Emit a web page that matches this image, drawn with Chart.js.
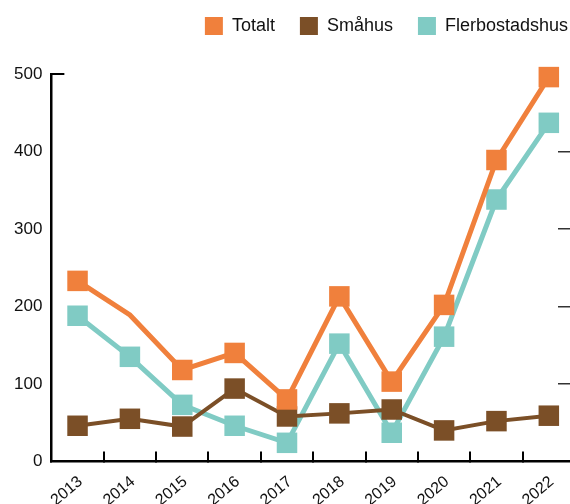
<!DOCTYPE html>
<html lang="sv">
<head>
  <meta charset="UTF-8" />
  <title>Totalt, Småhus, Flerbostadshus 2013–2022</title>
  <script src="https://cdn.jsdelivr.net/npm/chart.js"></script>
  <style>
    html, body {
      margin: 0;
      padding: 0;
      background: #fff;
      overflow: hidden;
    }
    #wrap {
      width: 570px;
      height: 504px;
      overflow: hidden;
    }
    canvas {
      display: block;
    }
  </style>
</head>
<body>
  <div id="wrap"><canvas id="chart" width="593" height="504"></canvas></div>

  <script>
    const years = ['2013', '2014', '2015', '2016', '2017', '2018', '2019', '2020', '2021', '2022'];
    const totalt = [233, 189, 118, 140, 80, 213, 103, 202, 389, 496];
    const smahus = [46, 55, 45, 94, 58, 62, 67, 40, 52, 59];
    const flerbostadshus = [188, 135, 73, 46, 24, 152, 37, 161, 338, 437];
    const yMin = 0;
    const yMax = 500;
    const yStep = 100;

    const ORANGE = '#F0803C';
    const BROWN = '#7B4F27';
    const TEAL = '#80CBC4';

    Chart.defaults.font.family = '"Liberation Sans", Helvetica, Arial, sans-serif';
    Chart.defaults.color = '#111';

    function series(label, values, color, width) {
      return {
        label: label,
        data: values,
        borderColor: color,
        backgroundColor: color,
        borderWidth: width,
        tension: 0,
        clip: false,
        pointStyle: 'rect',
        pointRadius: 14.5,
        pointBorderWidth: 0,
        pointBackgroundColor: color
      };
    }

    const totaltSet = series('Totalt', totalt, ORANGE, 5);
    // no marker on 2014 for Totalt in the original
    totaltSet.pointRadius = ctx => (ctx.dataIndex === 1 ? 0 : 14.5);

    const chart = new Chart(document.getElementById('chart'), {
      type: 'line',
      data: {
        labels: years,
        datasets: [
          totaltSet,
          series('Småhus', smahus, BROWN, 4),
          series('Flerbostadshus', flerbostadshus, TEAL, 5)
        ]
      },
      options: {
        responsive: false,
        animation: false,
        layout: { padding: { left: -8, right: 0, top: -8, bottom: -27 } },
        plugins: {
          tooltip: { enabled: false },
          legend: {
            position: 'top',
            align: 'end',
            labels: {
              boxWidth: 18,
              boxHeight: 18,
              padding: 25,
              color: '#111',
              font: { size: 18 },
              generateLabels: c => Chart.defaults.plugins.legend.labels.generateLabels(c)
                .map(item => Object.assign(item, { lineWidth: 0 }))
            }
          },
          // empty spacer between legend and plot
          subtitle: {
            display: true,
            text: '',
            weight: 500,
            font: { size: 10 },
            padding: { top: 0, bottom: 17 }
          }
        },
        scales: {
          x: {
            offset: true,
            grid: {
              offset: true,
              drawOnChartArea: false,
              tickLength: -10,
              color: '#000',
              lineWidth: 2
            },
            border: { color: '#000', width: 2.5 },
            ticks: {
              autoSkip: false,
              minRotation: 40,
              maxRotation: 40,
              padding: 21,
              labelOffset: 3,
              color: '#111',
              font: { size: 16 }
            }
          },
          y: {
            min: yMin,
            max: yMax,
            grid: {
              drawOnChartArea: false,
              tickLength: -13,
              lineWidth: 2,
              color: ctx => (ctx.tick && (ctx.tick.value === yMin || ctx.tick.value === yMax)) ? '#000' : 'rgba(0,0,0,0)'
            },
            border: { color: '#000', width: 2.5 },
            ticks: {
              stepSize: yStep,
              padding: 22,
              color: '#111',
              font: { size: 17 }
            }
          },
          y2: {
            position: 'right',
            min: yMin,
            max: yMax,
            grid: {
              drawOnChartArea: false,
              tickLength: -17,
              lineWidth: 1.5,
              color: ctx => (ctx.tick && ctx.tick.value > yMin && ctx.tick.value < yMax) ? '#333' : 'rgba(0,0,0,0)'
            },
            border: { display: false },
            ticks: { display: false, stepSize: yStep },
            title: { display: true, text: '', font: { size: 10 }, padding: { top: 0, bottom: 23 } }
          }
        }
      }
    });
  </script>
</body>
</html>
